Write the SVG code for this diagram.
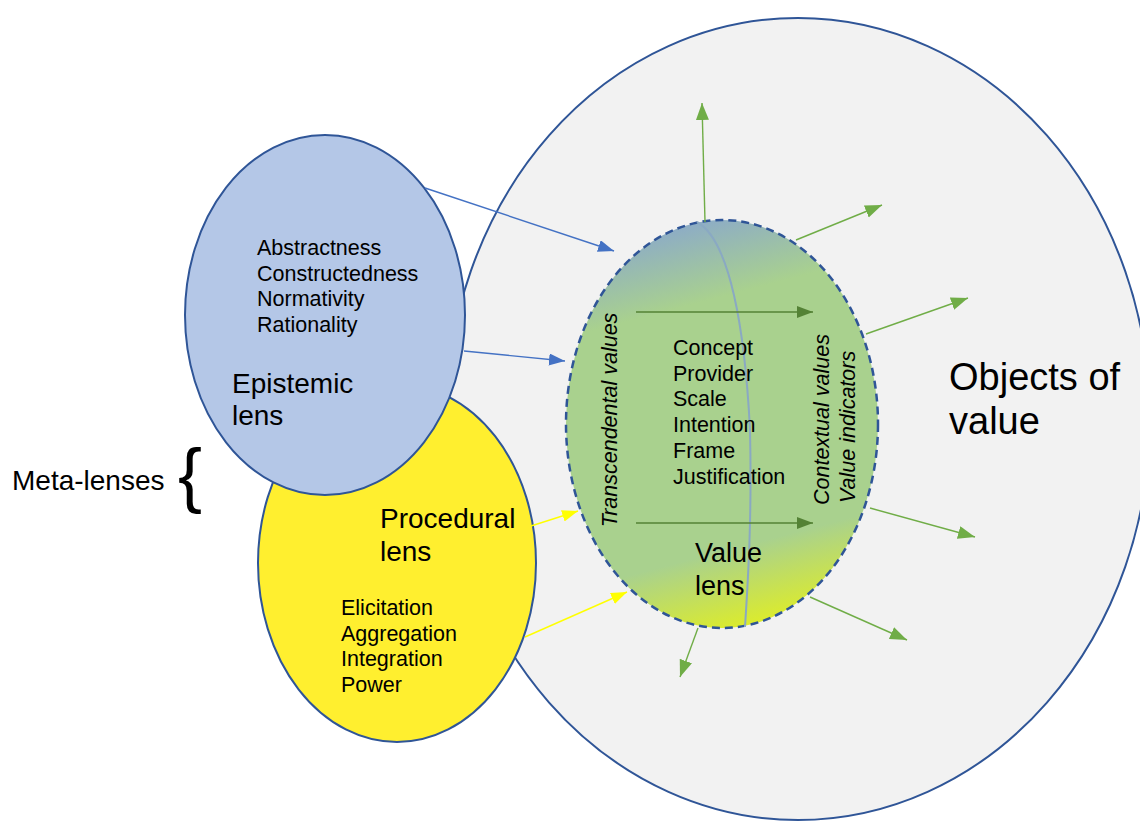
<svg xmlns="http://www.w3.org/2000/svg" width="1140" height="822" viewBox="0 0 1140 822">
<style>
.t{font-family:"Liberation Sans",Arial,sans-serif;fill:#000}
.item{font-size:21.5px}
.head{font-size:28px}
.it{font-style:italic;font-size:21.5px}
.shape{stroke:#2F5597;stroke-width:2}
.conn{fill:none;stroke-width:1.4}
</style>
<defs>
<linearGradient id="gv" x1="0.4" y1="0" x2="0.6" y2="1">
<stop offset="0" stop-color="#8CABC8"/>
<stop offset="0.2" stop-color="#A9D18E"/>
<stop offset="0.8" stop-color="#A9D18E"/>
<stop offset="1" stop-color="#DEED28"/>
</linearGradient>
<marker id="ab" markerUnits="userSpaceOnUse" markerWidth="18" markerHeight="14" refX="16" refY="6" orient="auto"><path d="M0,0 L16,6 L0,12 z" fill="#4472C4"/></marker>
<marker id="ay" markerUnits="userSpaceOnUse" markerWidth="18" markerHeight="14" refX="16" refY="6" orient="auto"><path d="M0,0 L16,6 L0,12 z" fill="#FFFF00"/></marker>
<marker id="ag" markerUnits="userSpaceOnUse" markerWidth="20" markerHeight="14" refX="17" refY="6.5" orient="auto"><path d="M0,0 L17,6.5 L0,13 z" fill="#70AD47"/></marker>
<marker id="ad" markerUnits="userSpaceOnUse" markerWidth="18" markerHeight="14" refX="16" refY="6" orient="auto"><path d="M0,0 L16,6 L0,12 z" fill="#548235"/></marker>
</defs>
<rect width="1140" height="822" fill="#fff"/>
<g id="objects">
<ellipse class="shape" cx="798" cy="419" rx="352" ry="401" fill="#F2F2F2"/>
<text class="t" x="949" y="390" font-size="38">Objects of</text>
<text class="t" x="949" y="434" font-size="38">value</text>
</g>
<g id="procedural">
<ellipse class="shape" cx="397" cy="563" rx="139" ry="179" fill="#FFEF2F"/>
<text class="t head" x="380" y="528">Procedural</text>
<text class="t head" x="380" y="561">lens</text>
<text class="t item" x="341" y="615">Elicitation</text>
<text class="t item" x="341" y="641">Aggregation</text>
<text class="t item" x="341" y="666">Integration</text>
<text class="t item" x="341" y="692">Power</text>
</g>
<g id="epistemic">
<ellipse class="shape" cx="325" cy="315" rx="140" ry="180" fill="#B4C7E7"/>
<text class="t item" x="257" y="255">Abstractness</text>
<text class="t item" x="257" y="281">Constructedness</text>
<text class="t item" x="257" y="306">Normativity</text>
<text class="t item" x="257" y="332">Rationality</text>
<text class="t head" x="232" y="393">Epistemic</text>
<text class="t head" x="232" y="425">lens</text>
</g>
<g id="value-lens">
<ellipse cx="722" cy="424" rx="156" ry="204" fill="url(#gv)" stroke="#2F5597" stroke-width="2.5" stroke-dasharray="8 5"/>
<path d="M697,222 C730,240 745,330 750,430 C752,520 748,580 745,627" fill="none" stroke="#8AA9C3" stroke-width="2"/>
<line x1="636" y1="312" x2="813" y2="312" stroke="#548235" stroke-width="1.5" marker-end="url(#ad)"/>
<line x1="636" y1="523" x2="813" y2="523" stroke="#548235" stroke-width="1.5" marker-end="url(#ad)"/>
<text class="t it" transform="translate(617,420) rotate(-90)" text-anchor="middle">Transcendental values</text>
<text class="t it" transform="translate(829,505) rotate(-90)">Contextual values</text>
<text class="t it" transform="translate(855,503) rotate(-90)">Value indicators</text>
<text class="t item" x="673" y="355">Concept</text>
<text class="t item" x="673" y="381">Provider</text>
<text class="t item" x="673" y="406">Scale</text>
<text class="t item" x="673" y="432">Intention</text>
<text class="t item" x="673" y="458">Frame</text>
<text class="t item" x="673" y="484">Justification</text>
<text class="t" x="695" y="562" font-size="27">Value</text>
<text class="t" x="695" y="595" font-size="27">lens</text>
</g>
<g id="meta-lenses">
<text class="t head" x="12" y="490">Meta-lenses</text>
<text class="t" x="178" y="499" font-size="72">{</text>
</g>
<g id="connectors">
<line class="conn" x1="425" y1="188" x2="614" y2="251" stroke="#4472C4" marker-end="url(#ab)"/>
<line class="conn" x1="464" y1="351" x2="565" y2="361" stroke="#4472C4" marker-end="url(#ab)"/>
<line class="conn" x1="531" y1="526" x2="578" y2="511" stroke="#FFFF00" marker-end="url(#ay)"/>
<line class="conn" x1="525" y1="637" x2="627" y2="592" stroke="#FFFF00" marker-end="url(#ay)"/>
<line class="conn" x1="705" y1="222" x2="702" y2="103" stroke="#70AD47" marker-end="url(#ag)"/>
<line class="conn" x1="796" y1="240" x2="882" y2="205" stroke="#70AD47" marker-end="url(#ag)"/>
<line class="conn" x1="866" y1="334" x2="968" y2="298" stroke="#70AD47" marker-end="url(#ag)"/>
<line class="conn" x1="870" y1="508" x2="975" y2="537" stroke="#70AD47" marker-end="url(#ag)"/>
<line class="conn" x1="810" y1="597" x2="907" y2="640" stroke="#70AD47" marker-end="url(#ag)"/>
<line class="conn" x1="698" y1="628" x2="680" y2="677" stroke="#70AD47" marker-end="url(#ag)"/>
</g>
</svg>
